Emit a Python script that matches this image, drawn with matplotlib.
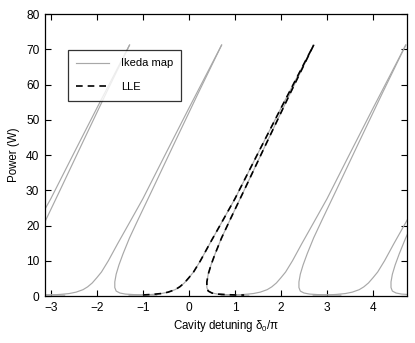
import matplotlib
matplotlib.use("Agg")
import matplotlib.pyplot as plt
import numpy as np

plt.rcParams['font.family'] = ['Liberation Sans', 'DejaVu Sans']
plt.rcParams['mathtext.fontset'] = 'custom'
plt.rcParams['mathtext.rm'] = 'Liberation Sans'
plt.rcParams['mathtext.it'] = 'Liberation Sans'

# Ikeda map resonance curve (one period, relative detuning in units of pi)
left_delta = [-1.3, -1.0, -0.8, -0.6, -0.45, -0.3, -0.2, -0.1, 0.0, 0.1, 0.25, 0.45, 0.7, 1.0, 1.5, 2.0, 2.71]
left_power = [0.25, 0.3, 0.45, 0.7, 1.1, 1.8, 2.6, 3.7, 5.2, 6.8, 10.0, 14.8, 20.6, 27.6, 40.5, 53.3, 71.2]
right_delta = [2.71, 2.2, 1.7, 1.2, 0.9, 0.71, 0.57, 0.48, 0.42, 0.39, 0.39, 0.42, 0.5, 0.62, 0.8, 1.0, 1.3]
right_power = [71.2, 57.5, 43.8, 30.0, 21.8, 16.5, 12.0, 8.8, 6.2, 4.0, 2.4, 1.4, 0.85, 0.55, 0.4, 0.3, 0.25]
# Ikeda map periodic copies (offset in units of pi)
ikeda_offsets = [-4, -2, 0, 2, 4]

# LLE curve
lle_left_delta = [-1.0, -0.8, -0.6, -0.45, -0.3, -0.2, -0.1, 0.0, 0.1, 0.25, 0.45, 0.7, 1.0, 1.5, 2.0, 2.71]
lle_left_power = [0.3, 0.45, 0.7, 1.1, 1.8, 2.6, 3.7, 5.2, 6.8, 10.0, 14.8, 20.6, 27.6, 40.5, 53.3, 71.2]
lle_right_delta = [2.71, 2.2, 1.7, 1.2, 0.9, 0.71, 0.57, 0.48, 0.42, 0.39, 0.39, 0.42, 0.5, 0.62, 0.8, 1.0, 1.2]
lle_right_power = [71.2, 57.5, 43.8, 30.0, 21.8, 16.5, 12.0, 8.8, 6.2, 4.0, 2.4, 1.4, 0.85, 0.55, 0.4, 0.3, 0.27]

xticks = [-3, -2, -1, 0, 1, 2, 3, 4]
yticks = [0, 10, 20, 30, 40, 50, 60, 70, 80]

fig = plt.figure(figsize=(4.15, 3.43), dpi=100)
ax = fig.add_axes([0.108, 0.137, 0.873, 0.822])

gray = '#a8a8a8'
for i, off in enumerate(ikeda_offsets):
    ax.plot(np.array(left_delta) + off, left_power, color=gray, lw=0.85,
            label='Ikeda map' if i == 0 else None)
    ax.plot(np.array(right_delta) + off, right_power, color=gray, lw=0.85)

ax.plot(lle_left_delta, lle_left_power, color='black', lw=1.2, dashes=(4, 3), label='LLE')
ax.plot(lle_right_delta, lle_right_power, color='black', lw=1.2, dashes=(4, 3))

ax.set_xlim(-3.13, 4.74)
ax.set_ylim(0, 80)
ax.set_xticks(xticks)
ax.set_yticks(yticks)
ax.tick_params(direction='in', length=4.5, width=0.8, top=True, right=True, labelsize=8.6, pad=4)
for s in ax.spines.values():
    s.set_linewidth(0.9)

ax.set_xlabel(r'Cavity detuning $\delta_0/\pi$', fontsize=8.3, labelpad=3)
ax.set_ylabel('Power (W)', fontsize=8.3, labelpad=4)

leg = ax.legend(loc='upper left', bbox_to_anchor=(0.064, 0.872), frameon=True, fancybox=False,
                edgecolor='black', fontsize=8, handlelength=2.9, labelspacing=1.25,
                borderpad=0.75, handletextpad=1.1, borderaxespad=0)
leg.get_frame().set_linewidth(0.9)

fig.savefig('out.png', dpi=100)
